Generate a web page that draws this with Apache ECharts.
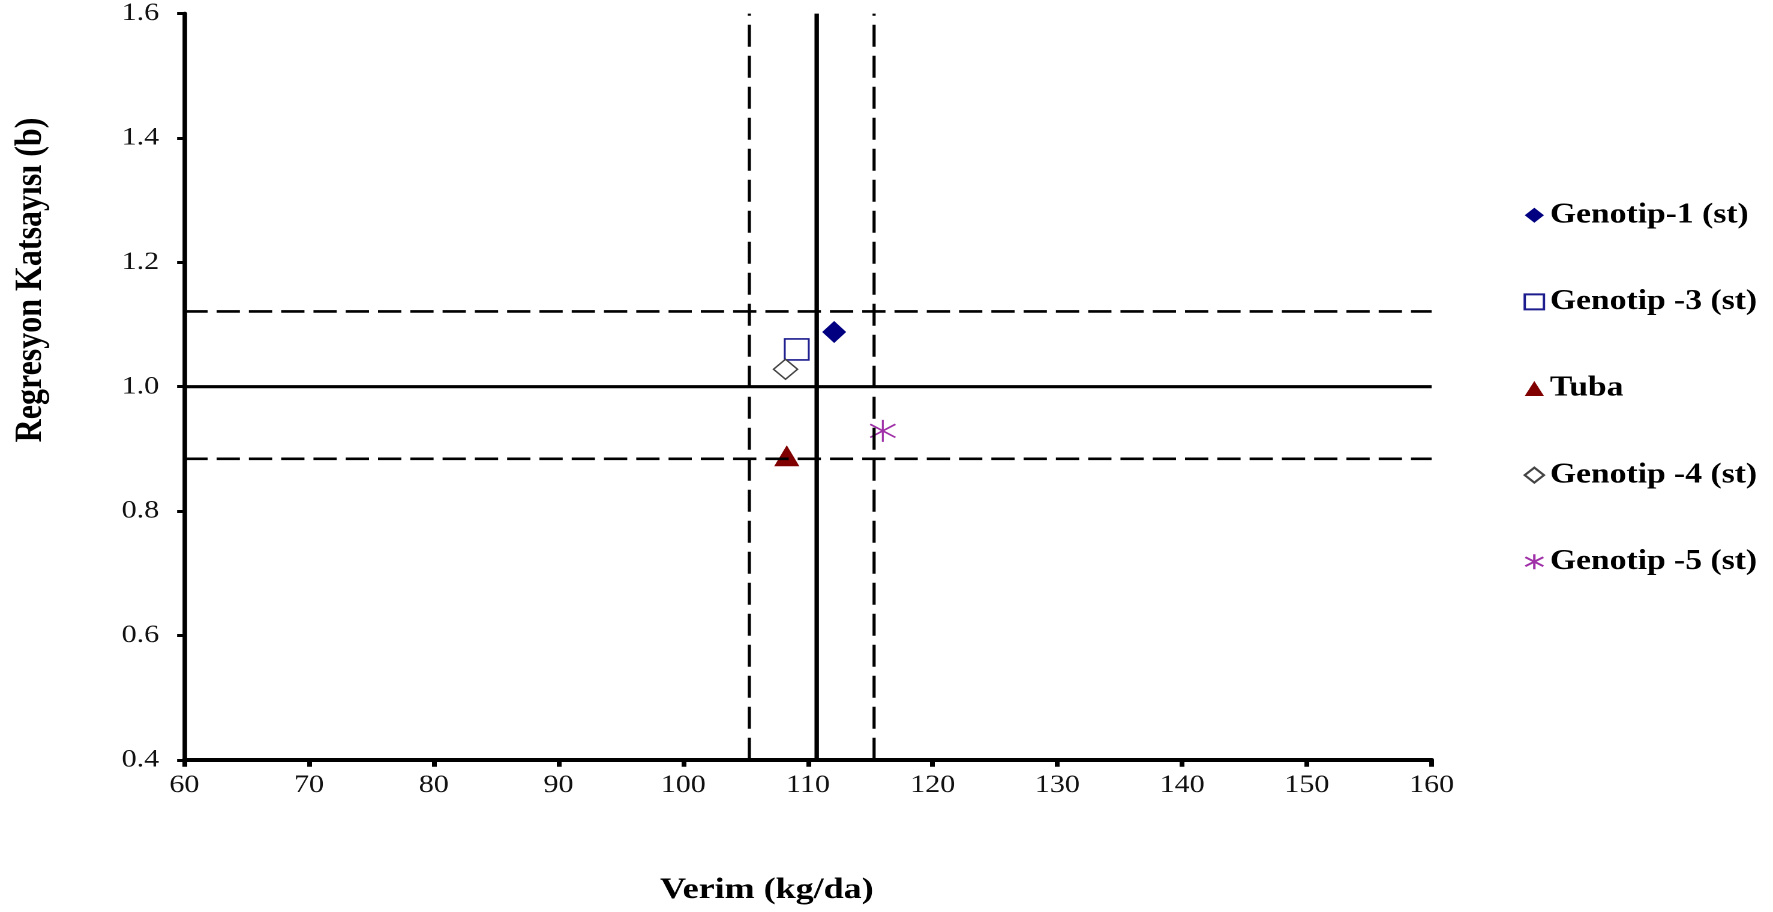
<!DOCTYPE html>
<html>
<head>
<meta charset="utf-8">
<script src="https://cdn.jsdelivr.net/npm/echarts@6/dist/echarts.min.js"></script>
<style>
  html, body { margin: 0; padding: 0; background: #fff; overflow: hidden; }
  #chart { width: 1477.5px; height: 912px; transform: scaleX(1.2); transform-origin: 0 0; }
</style>
</head>
<body>
<div id="chart"></div>
<script>
// ---- data ----
const seriesNames = ['Genotip-1 (st)', 'Genotip -3 (st)', 'Tuba', 'Genotip -4 (st)', 'Genotip -5 (st)'];
const verim = [112.1, 109.1, 108.3, 108.2, 116.0];          // x: Verim (kg/da)
const regresyon = [1.088, 1.060, 0.889, 1.028, 0.929];     // y: Regresyon katsayısı (b)
const verimMean = 110.7;
const verimLimits = [105.3, 115.3];
const bMean = 1.0;
const bLimits = [0.884, 1.121];
const xTicks = [60, 70, 80, 90, 100, 110, 120, 130, 140, 150, 160];
const yTicks = [0.4, 0.6, 0.8, 1.0, 1.2, 1.4, 1.6];
const xTitle = 'Verim (kg/da)';
const yTitle = 'Regresyon Katsayısı (b)';

// ---- styles ----
const FONT = "'Liberation Serif', 'Times New Roman', serif";
const xMin = xTicks[0], xMax = xTicks[xTicks.length - 1];
const yMin = yTicks[0], yMax = yTicks[yTicks.length - 1];

const markerStyles = [
  { symbol: 'diamond', symbolSize: [20, 22], itemStyle: { color: '#000080', opacity: 1 } },
  { symbol: 'rect', symbolSize: [20, 21], itemStyle: { color: '#ffffff', borderColor: '#1c1c8e', borderWidth: 1.6, opacity: 1 } },
  { symbol: 'triangle', symbolSize: [21, 21], itemStyle: { color: '#800000', opacity: 1 } },
  { symbol: 'diamond', symbolSize: [20, 20], itemStyle: { color: '#ffffff', borderColor: '#444444', borderWidth: 1.4, opacity: 1 } },
  { symbol: 'path://M0,-10L0,10M-10,-6L10,6M-10,6L10,-6', symbolSize: [21, 22],
    itemStyle: { color: 'none', borderColor: '#a030a8', borderWidth: 1.6, opacity: 1 } }
];

const series = [];
seriesNames.forEach((name, i) => {
  series.push(Object.assign({
    name: name,
    type: 'scatter',
    data: [[verim[i], regresyon[i]]],
    z: 2
  }, markerStyles[i]));
});

function vLine(x, dashed, width) {
  return {
    type: 'line', silent: true, symbol: 'none', z: 3,
    data: [[x, yMin], [x, yMax]],
    lineStyle: { color: '#000', width: width, type: dashed ? [22, 9] : 'solid', cap: 'butt' }
  };
}
function hLine(y, dashed, width) {
  return {
    type: 'line', silent: true, symbol: 'none', z: 3,
    data: [[xMin, y], [xMax, y]],
    lineStyle: { color: '#000', width: width, type: dashed ? [19.4, 7.5] : 'solid', cap: 'butt' }
  };
}
series.push(vLine(verimMean, false, 3.7));
verimLimits.forEach(v => series.push(vLine(v, true, 2.6)));
series.push(hLine(bMean, false, 3.2));
bLimits.forEach(v => series.push(hLine(v, true, 2.6)));

const chart = echarts.init(document.getElementById('chart'), null, { renderer: 'canvas', devicePixelRatio: 2 });
chart.setOption({
  animation: false,
  backgroundColor: '#ffffff',
  grid: { left: 153.6, right: 285, top: 13.6, bottom: 152.2, containLabel: false },
  xAxis: {
    type: 'value', min: xMin, max: xMax, interval: 10,
    axisLine: { onZero: false, lineStyle: { color: '#000', width: 4 } },
    axisTick: { show: true, length: 7, lineStyle: { color: '#000', width: 4 } },
    axisLabel: { margin: 13, color: '#111', fontSize: 25, fontFamily: FONT },
    splitLine: { show: false }
  },
  yAxis: {
    type: 'value', min: yMin, max: yMax, interval: 0.2,
    axisLine: { onZero: false, lineStyle: { color: '#000', width: 3.8 } },
    axisTick: { show: true, length: 6, lineStyle: { color: '#000', width: 3 } },
    axisLabel: { margin: 21, color: '#111', fontSize: 25, fontFamily: FONT,
      formatter: v => v.toFixed(1) },
    splitLine: { show: false }
  },
  legend: {
    data: seriesNames,
    orient: 'vertical',
    left: 1268.6, top: 201.3,
    padding: 0,
    itemGap: 58.6,
    itemWidth: 16, itemHeight: 15,
    selectedMode: false,
    textStyle: { fontFamily: FONT, fontWeight: 'bold', fontSize: 28, color: '#000' }
  },
  graphic: [
    { type: 'text', x: 25.8, y: 280, rotation: Math.PI / 2,
      style: { text: yTitle, font: "bold 32px 'Liberation Serif'", fill: '#000', align: 'center', verticalAlign: 'middle' } },
    { type: 'text', x: 639, y: 890,
      style: { text: xTitle, font: "bold 30px 'Liberation Serif'", fill: '#000', align: 'center', verticalAlign: 'middle' } }
  ],
  series: series
});
</script>
</body>
</html>
